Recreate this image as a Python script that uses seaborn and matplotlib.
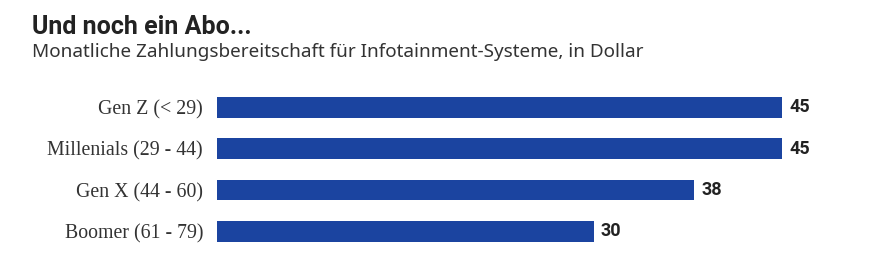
import matplotlib
matplotlib.use("Agg")
import matplotlib.pyplot as plt
import seaborn as sns
import pandas as pd

categories = ["Gen Z (< 29)", "Millenials (29 - 44)", "Gen X (44 - 60)", "Boomer (61 - 79)"]
values = [45, 45, 38, 30]
title = "Und noch ein Abo..."
subtitle = "Monatliche Zahlungsbereitschaft für Infotainment-Systeme, in Dollar"

sns.set_style("white")
plt.rcParams['font.family'] = ['Roboto', 'DejaVu Sans']

df = pd.DataFrame({"cat": categories, "val": values})

fig = plt.figure(figsize=(8.76, 2.72), dpi=100)
ax = fig.add_axes([217/876, (272-252.2)/272, 628/876, 165.6/272])
sns.barplot(data=df, x="val", y="cat", ax=ax, color="#1b44a0", width=0.5, saturation=1,
            orient="h", linewidth=0)
ax.set_xlim(0, 50)
ax.set_ylim(3.5, -0.5)
ax.set_xlabel("")
ax.set_ylabel("")
ax.set_xticks([])
for s in ax.spines.values():
    s.set_visible(False)
ax.tick_params(axis="y", length=0, pad=10)
for lbl in ax.get_yticklabels():
    lbl.set_fontfamily(["Liberation Serif", "DejaVu Serif"])
    lbl.set_fontsize(14.3)
    lbl.set_color("#333333")
for c in ax.containers:
    ax.bar_label(c, padding=5, fontsize=13, fontweight="bold", color="#222222",
                 fontfamily=["Roboto", "DejaVu Sans"])

fig.text(32/876, (272-34)/272, title, fontsize=18, fontweight="bold", color="#222222",
         va="baseline", ha="left", family=["Roboto", "DejaVu Sans"])
fig.text(32/876, (272-57.3)/272, subtitle, fontsize=13.6, color="#333333",
         va="baseline", ha="left", family=["Noto Sans", "DejaVu Sans"])

fig.savefig("out.png", dpi=100)
